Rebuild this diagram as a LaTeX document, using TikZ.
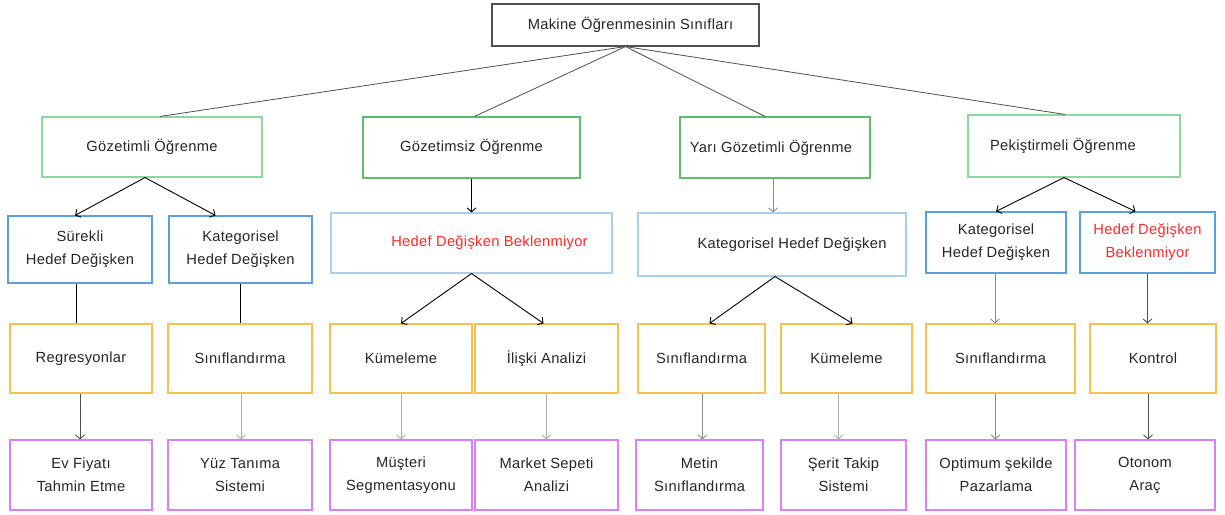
\documentclass[tikz,border=0pt]{standalone}
\usepackage{fontspec}
\setmainfont[LetterSpace=2]{Liberation Sans}
\usetikzlibrary{arrows.meta,calc}
\definecolor{txt}{HTML}{262626}
\definecolor{grnA}{HTML}{8FD89C}
\definecolor{grnB}{HTML}{5CBE6C}
\definecolor{bluA}{HTML}{5AA0DC}
\definecolor{bluB}{HTML}{A8CFEE}
\definecolor{orn}{HTML}{F7C14F}
\definecolor{pur}{HTML}{D880F5}
\definecolor{redt}{HTML}{FF2A2A}
\definecolor{lgray}{HTML}{ADADAD}
\definecolor{mgray}{HTML}{8A8A8A}
\definecolor{dgray}{HTML}{505050}
\begin{document}
\begin{tikzpicture}[x=1pt,y=-1pt,
  box/.style={draw, line width=1.1pt, inner sep=0pt, align=center, text=txt, font=\fontsize{14.7}{23}\selectfont},
  rootbox/.style={box, draw=dgray},
  gbox/.style={box, draw=grnB},
  gboxl/.style={box, draw=grnA},
  bbox/.style={box, draw=bluA},
  bboxl/.style={box, draw=bluB},
  obox/.style={box, draw=orn},
  pbox/.style={box, draw=pur},
  topline/.style={draw=dgray, line width=0.8pt},
  arr/.style={line width=0.9pt, -{Straight Barb[length=4pt,width=9pt]}},
  plain/.style={line width=0.9pt}
]
\useasboundingbox (0,0) rectangle (1225,514);
\fill[white] (0,0) rectangle (1225,514);

% root
\node[rootbox, minimum width=267, minimum height=42] (root) at (625.5,25) {\hspace*{10pt}Makine Öğrenmesinin Sınıfları};

% level 1
\node[gboxl, minimum width=220, minimum height=60] (g1) at (152,147) {Gözetimli Öğrenme};
\node[gbox, minimum width=217, minimum height=61] (g2) at (471.5,147.5) {\raisebox{4pt}{Gözetimsiz Öğrenme}};
\node[gbox, minimum width=190, minimum height=61] (g3) at (775,147.5) {\hspace*{-8pt}Yarı Gözetimli Öğrenme};
\node[gboxl, minimum width=212, minimum height=62] (g4) at (1074,146) {Pekiştirmeli Öğrenme\hspace*{22pt}};

% level 2
\node[bbox, minimum width=144, minimum height=67] (b1) at (80,249.5) {Sürekli\\Hedef Değişken};
\node[bbox, minimum width=143, minimum height=67] (b2) at (240.5,249.5) {Kategorisel\\Hedef Değişken};
\node[bboxl, minimum width=281, minimum height=60] (b3) at (471.5,243) {\hspace*{36pt}\textcolor{redt}{Hedef Değişken Beklenmiyor}};
\node[bboxl, minimum width=268, minimum height=63] (b4) at (772,244.5) {\hspace*{40pt}Kategorisel Hedef Değişken};
\node[bbox, minimum width=140, minimum height=61] (b5) at (996,242.5) {Kategorisel\\Hedef Değişken};
\node[bbox, minimum width=135, minimum height=61, text=redt] (b6) at (1147.5,242.5) {Hedef Değişken\\Beklenmiyor};

% level 3
\node[obox, minimum width=142, minimum height=69] (o1) at (81,358.5) {Regresyonlar};
\node[obox, minimum width=144, minimum height=69] (o2) at (240,358.5) {Sınıflandırma};
\node[obox, minimum width=142, minimum height=69] (o3) at (401,358.5) {Kümeleme};
\node[obox, minimum width=143, minimum height=69] (o4) at (546.5,358.5) {İlişki Analizi};
\node[obox, minimum width=127, minimum height=69] (o5) at (701.5,358.5) {Sınıflandırma};
\node[obox, minimum width=131, minimum height=69] (o6) at (846.5,358.5) {Kümeleme};
\node[obox, minimum width=149, minimum height=69] (o7) at (1000.5,358.5) {Sınıflandırma};
\node[obox, minimum width=126, minimum height=69] (o8) at (1153,358.5) {Kontrol};

% level 4
\node[pbox, minimum width=142, minimum height=70] (p1) at (81,475) {Ev Fiyatı\\Tahmin Etme};
\node[pbox, minimum width=144, minimum height=70] (p2) at (240,475) {Yüz Tanıma\\Sistemi};
\node[pbox, minimum width=142, minimum height=70] (p3) at (401,475) {Müşteri\\Segmentasyonu};
\node[pbox, minimum width=143, minimum height=70] (p4) at (546.5,475) {Market Sepeti\\Analizi};
\node[pbox, minimum width=127, minimum height=70] (p5) at (699.5,475) {Metin\\Sınıflandırma};
\node[pbox, minimum width=125, minimum height=70] (p6) at (843.5,475) {Şerit Takip\\Sistemi};
\node[pbox, minimum width=140, minimum height=70] (p7) at (996,475) {Optimum şekilde\\Pazarlama};
\node[pbox, minimum width=140, minimum height=70] (p8) at (1145,475) {Otonom\\Araç};

% root connectors
\draw[topline] (root.south) -- ([xshift=8]g1.north);
\draw[topline] (root.south) -- ([xshift=3]g2.north);
\draw[topline] (root.south) -- ([xshift=-10]g3.north);
\draw[topline] (root.south) -- ([xshift=-9]g4.north);

% level1 -> level2
\draw[arr] ([xshift=-7]g1.south) -- ([xshift=-5]b1.north);
\draw[arr] ([xshift=-7]g1.south) -- ([xshift=-25]b2.north);
\draw[arr] (g2.south) -- (b3.north);
\draw[arr, draw=mgray] ([xshift=-2]g3.south) -- ([xshift=-2]g3.south |- b4.north);
\draw[arr] ([xshift=-10]g4.south) -- (b5.north);
\draw[arr] ([xshift=-10]g4.south) -- ([xshift=-12]b6.north);

% level2 -> level3
\draw[plain] ([xshift=-4]b1.south) -- ([xshift=-4]b1.south |- o1.north);
\draw[plain] (b2.south) -- (b2.south |- o2.north);
\draw[arr] (b3.south) -- (o3.north);
\draw[arr] (b3.south) -- ([xshift=-3]o4.north);
\draw[arr] ([xshift=3]b4.south) -- ([xshift=8]o5.north);
\draw[arr] ([xshift=3]b4.south) -- ([xshift=6]o6.north);
\draw[arr, draw=mgray] ([xshift=-1]b5.south) -- ([xshift=-1]b5.south |- o7.north);
\draw[arr, draw=dgray] (b6.south) -- (b6.south |- o8.north);

% level3 -> level4
\draw[arr, draw=dgray] ([xshift=-1]o1.south) -- ([xshift=-1]o1.south |- p1.north);
\draw[arr, draw=lgray] ([xshift=1]o2.south) -- ([xshift=1]o2.south |- p2.north);
\draw[arr, draw=lgray] (o3.south) -- (o3.south |- p3.north);
\draw[arr, draw=lgray] (o4.south) -- (o4.south |- p4.north);
\draw[arr, draw=mgray] ([xshift=1]o5.south) -- ([xshift=1]o5.south |- p5.north);
\draw[arr, draw=lgray] ([xshift=-8]o6.south) -- ([xshift=-8]o6.south |- p6.north);
\draw[arr, draw=mgray] ([xshift=-5]o7.south) -- ([xshift=-5]o7.south |- p7.north);
\draw[arr, draw=dgray] ([xshift=-5]o8.south) -- ([xshift=-5]o8.south |- p8.north);
\end{tikzpicture}
\end{document}
